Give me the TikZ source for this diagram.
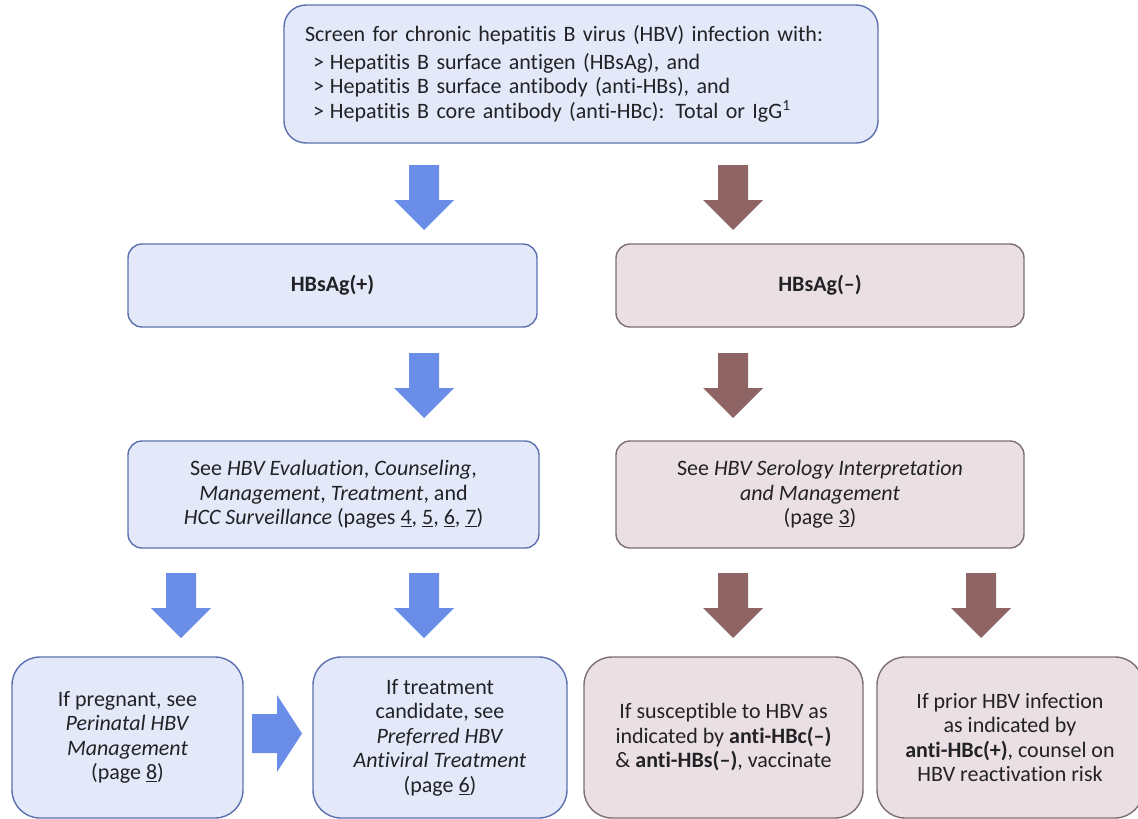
\documentclass[tikz,border=0pt]{standalone}
\usepackage{fontspec}
\setmainfont{Carlito}[Ligatures=NoCommon]

\definecolor{bluefill}{RGB}{227,233,249}
\definecolor{blueline}{RGB}{92,112,176}
\definecolor{bluearrow}{RGB}{106,142,232}
\definecolor{brownfill}{RGB}{234,223,227}
\definecolor{brownline}{RGB}{125,110,112}
\definecolor{brownarrow}{RGB}{142,100,100}
\definecolor{textgray}{RGB}{34,34,38}

% block arrow pointing down: colour, centre x, top y
\newcommand{\blockdown}[3]{%
	\fill[#1] (#2-15,#3) -- (#2+15,#3) -- (#2+15,#3+35) -- (#2+30,#3+35)
		-- (#2,#3+65) -- (#2-30,#3+35) -- (#2-15,#3+35) -- cycle;}

\begin{document}
\begin{tikzpicture}[x=1pt, y=-1pt,
	box/.style={rounded corners=14pt, line width=1.4pt, text=textgray, align=center,
		font=\fontsize{22}{24.5}\selectfont, inner sep=0pt},
	bluebox/.style={box, draw=blueline, fill=bluefill},
	brownbox/.style={box, draw=brownline, fill=brownfill},
	lastrow/.style={rounded corners=28pt, minimum width=#1, minimum height=161pt}]

	\useasboundingbox (0,0) rectangle (1138,819);

	\node[bluebox, rounded corners=22pt, minimum width=594pt, minimum height=138pt,
		text width=552pt, align=left] (screen) at (581,74)
		{Screen for chronic hepatitis B virus (HBV) infection with:\\[3pt]
		\hspace*{8pt}>\hspace{6pt}Hepatitis B surface antigen (HBsAg), and\\
		\hspace*{8pt}>\hspace{6pt}Hepatitis B surface antibody (anti-HBs), and\\
		\hspace*{8pt}>\hspace{6pt}Hepatitis B core antibody (anti-HBc): Total or IgG\textsuperscript{1}};

	\blockdown{bluearrow}{424}{165}
	\blockdown{brownarrow}{733}{165}

	\node[bluebox, minimum width=409pt, minimum height=83pt] (pos) at (332.5,285.5)
		{\textbf{HBsAg(+)}};
	\node[brownbox, minimum width=408pt, minimum height=83pt] (neg) at (820,285.5)
		{\textbf{HBsAg(–)}};

	\blockdown{bluearrow}{424}{353}
	\blockdown{brownarrow}{733}{353}

	\node[bluebox, minimum width=411pt, minimum height=107pt] (evalbox) at (333.5,494.5)
		{See \textit{HBV Evaluation}, \textit{Counseling},\\
		\textit{Management}, \textit{Treatment}, and\\
		\textit{HCC Surveillance} (pages \underline{4}, \underline{5}, \underline{6}, \underline{7})};
	\node[brownbox, minimum width=408pt, minimum height=107pt] (serology) at (820,494.5)
		{See \textit{HBV Serology Interpretation}\\
		\textit{and Management}\\
		(page \underline{3})};

	\blockdown{bluearrow}{181}{573}
	\blockdown{bluearrow}{424}{573}
	\blockdown{brownarrow}{733}{573}
	\blockdown{brownarrow}{981}{573}

	\node[bluebox, lastrow=231pt] (pregnant) at (127.5,737.5)
		{If pregnant, see\\ \textit{Perinatal HBV}\\ \textit{Management}\\ (page \underline{8})};
	\node[bluebox, lastrow=254pt] (treat) at (440,737.5)
		{If treatment\\ candidate, see\\ \textit{Preferred HBV}\\ \textit{Antiviral Treatment}\\ (page \underline{6})};
	\node[brownbox, lastrow=279pt] (suscept) at (723.5,737.5)
		{If susceptible to HBV as\\ indicated by \textbf{anti-HBc(–)}\\ \& \textbf{anti-HBs(–)}, vaccinate};
	\node[brownbox, lastrow=266pt] (prior) at (1010,737.5)
		{If prior HBV infection\\ as indicated by\\ \textbf{anti-HBc(+)}, counsel on\\ HBV reactivation risk};

	\fill[bluearrow] (252,714) -- (277,714) -- (277,695) -- (302,733.5) -- (277,772)
		-- (277,753) -- (252,753) -- cycle;
\end{tikzpicture}
\end{document}
